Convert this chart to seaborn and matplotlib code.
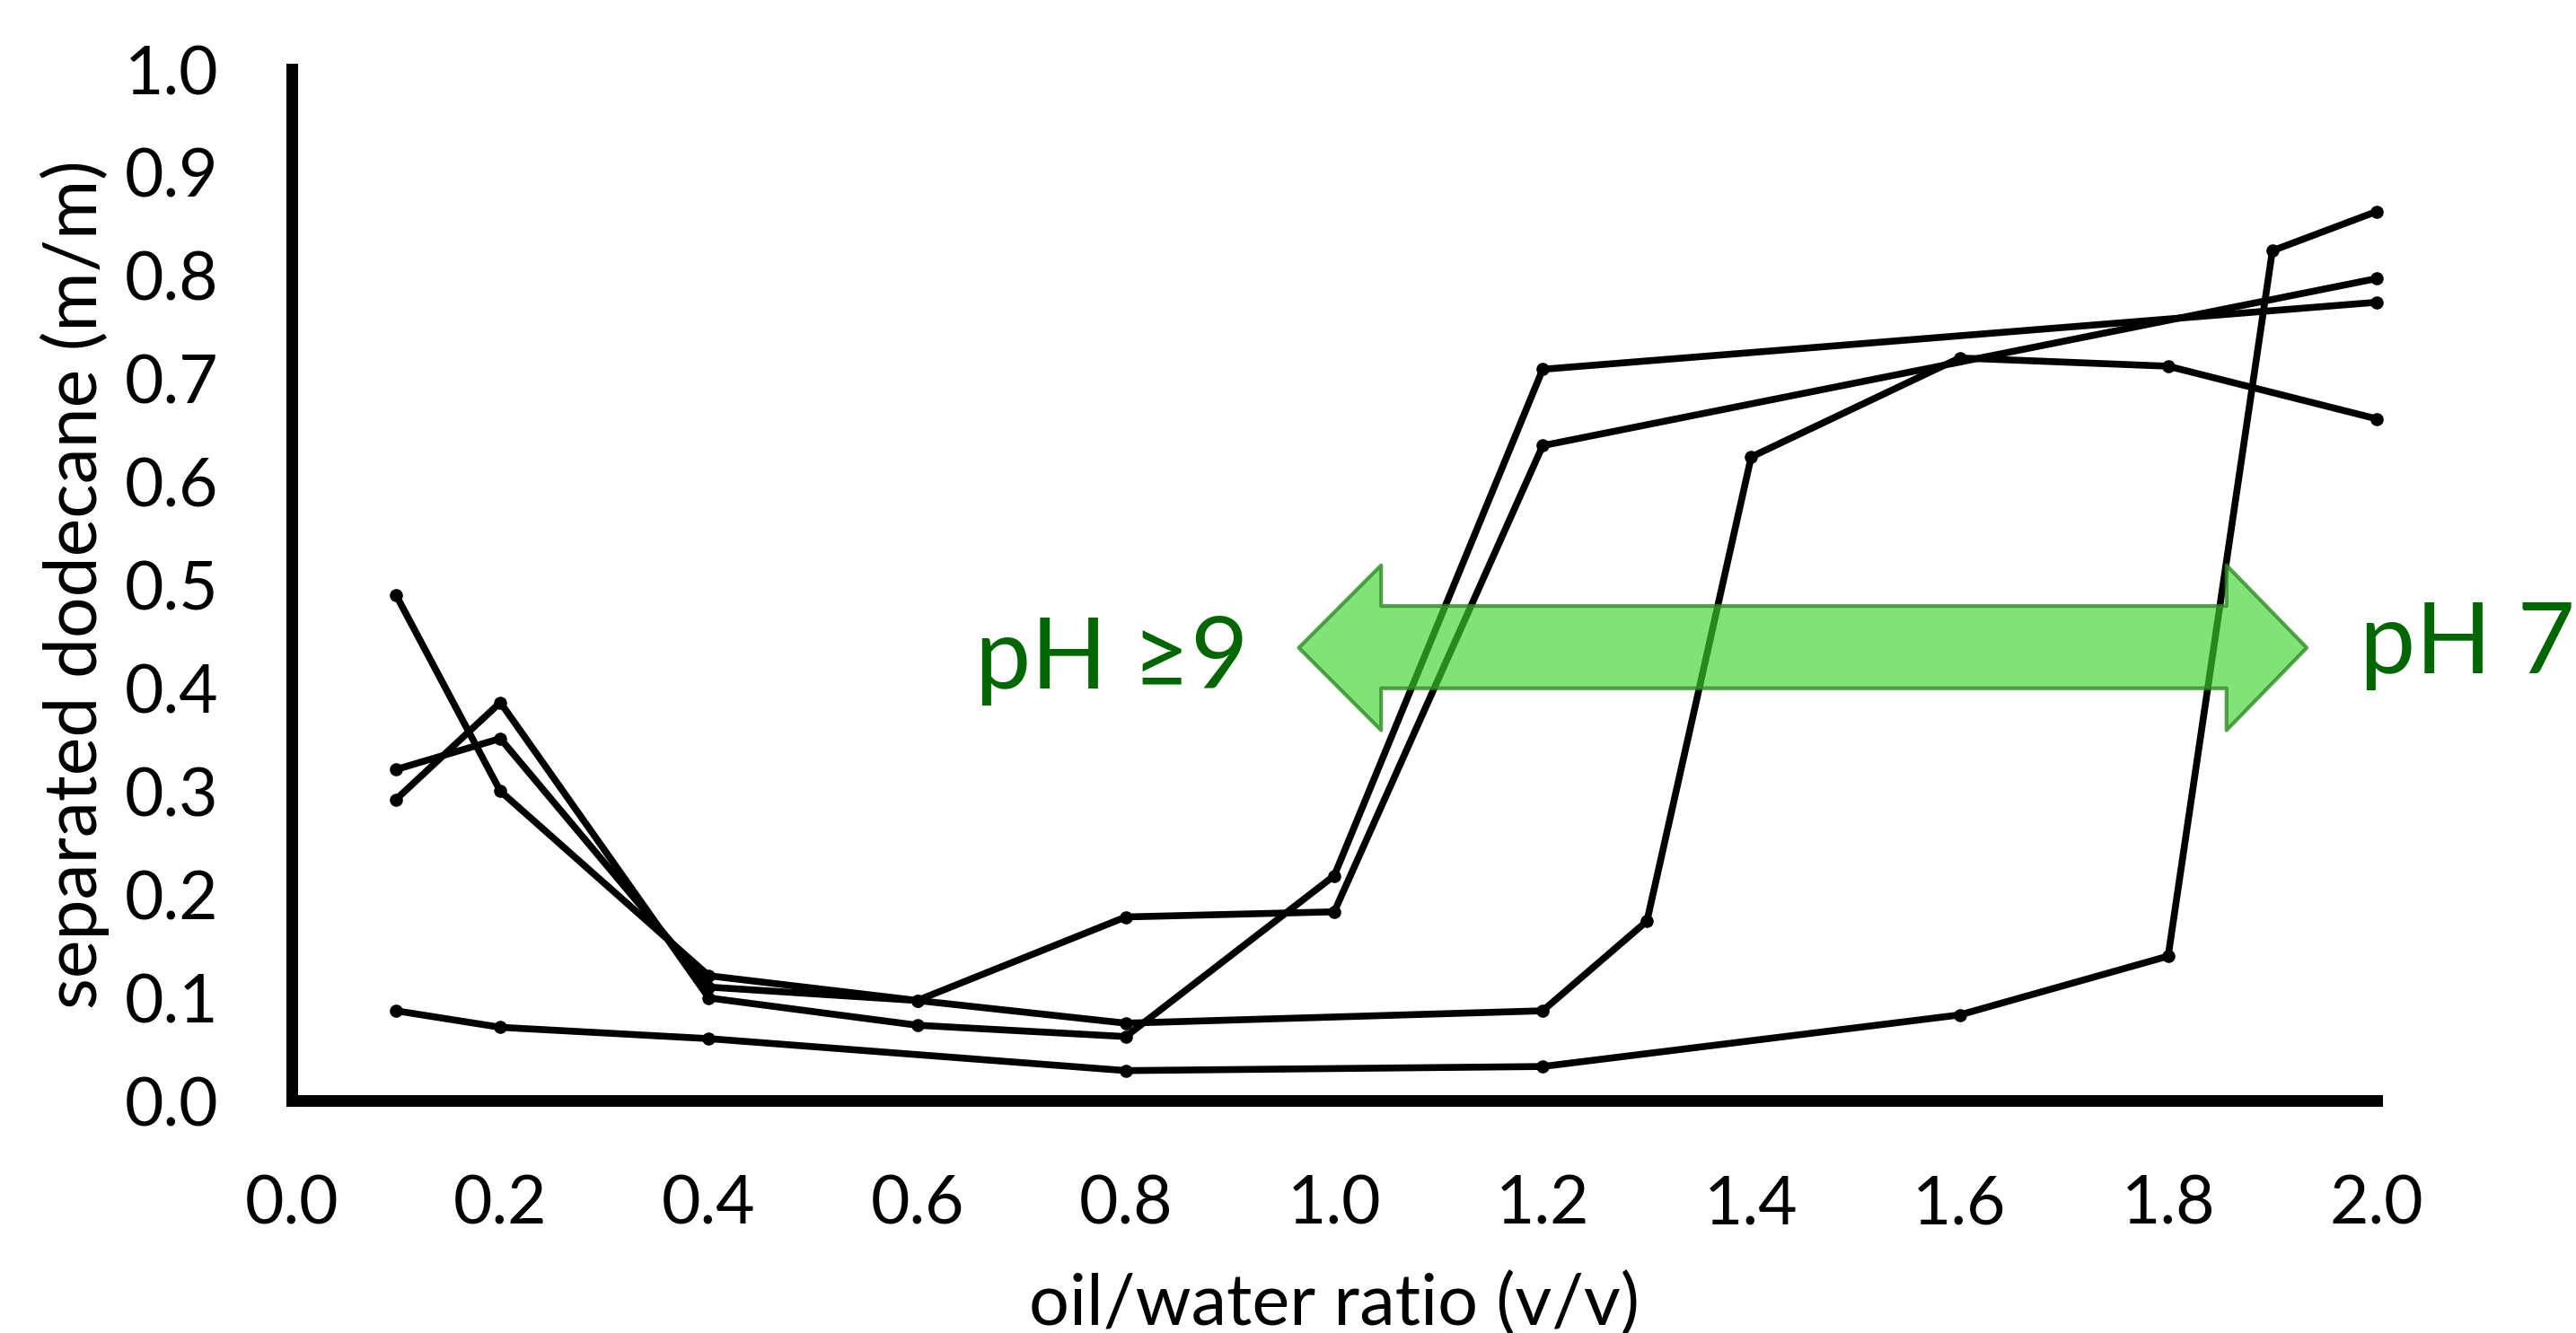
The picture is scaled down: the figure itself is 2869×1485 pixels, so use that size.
"""
Separated dodecane vs oil/water ratio, four runs, with the pH arrow.
"""

import matplotlib
matplotlib.use("Agg")
import matplotlib.pyplot as plt
from matplotlib.patches import Polygon
import seaborn as sns
import pandas as pd

# --- data --------------------------------------------------------------
ratio_a = [0.1, 0.2, 0.4, 0.6, 0.8, 1.2, 1.3, 1.4, 1.6, 1.8, 2.0]
sep_a = [0.49, 0.30, 0.121, 0.097, 0.075, 0.087, 0.174, 0.624, 0.720, 0.712, 0.661]

ratio_b = [0.1, 0.2, 0.4, 0.6, 0.8, 1.0, 1.2, 2.0]
sep_b = [0.321, 0.351, 0.110, 0.097, 0.178, 0.183, 0.635, 0.797]

ratio_c = [0.1, 0.2, 0.4, 0.6, 0.8, 1.0, 1.2, 2.0]
sep_c = [0.292, 0.386, 0.0995, 0.073, 0.062, 0.218, 0.709, 0.774]

ratio_d = [0.1, 0.2, 0.4, 0.8, 1.2, 1.6, 1.8, 1.9, 2.0]
sep_d = [0.087, 0.071, 0.060, 0.029, 0.033, 0.083, 0.140, 0.824, 0.862]

x_ticks = [0.0, 0.2, 0.4, 0.6, 0.8, 1.0, 1.2, 1.4, 1.6, 1.8, 2.0]
y_ticks = [0.0, 0.1, 0.2, 0.3, 0.4, 0.5, 0.6, 0.7, 0.8, 0.9, 1.0]

runs = {"a": (ratio_a, sep_a), "b": (ratio_b, sep_b),
        "c": (ratio_c, sep_c), "d": (ratio_d, sep_d)}
df = pd.concat(
    [pd.DataFrame({"ratio": r, "separated": s, "run": name})
     for name, (r, s) in runs.items()],
    ignore_index=True)

# --- style ---------------------------------------------------------------
sns.set_style("white")
FONT = ["Lato", "DejaVu Sans"]
plt.rcParams["font.family"] = FONT

fig = plt.figure(figsize=(28.69, 14.85), dpi=100)
ax = fig.add_axes([0.1133, 0.1744, 0.8093, 0.7737])

sns.lineplot(data=df, x="ratio", y="separated", units="run", estimator=None,
             color="black", linewidth=5.5, marker="o", markersize=10.5,
             markeredgewidth=0, ax=ax, clip_on=False, zorder=3)

ax.set_xlim(0, 2)
ax.set_ylim(0, 1)
ax.set_xticks(x_ticks)
ax.set_xticklabels([f"{v:.1f}" for v in x_ticks])
ax.set_yticks(y_ticks)
ax.set_yticklabels([f"{v:.1f}" for v in y_ticks])
ax.tick_params(length=0, labelsize=54, pad=59, colors="black")

for side in ["top", "right"]:
    ax.spines[side].set_visible(False)
for side in ["left", "bottom"]:
    ax.spines[side].set_linewidth(9.4)
    ax.spines[side].set_color("black")

ax.set_xlabel("oil/water ratio (v/v)", fontsize=57, color="black")
ax.set_ylabel("separated dodecane (m/m)", fontsize=58, color="black")
ax.xaxis.set_label_coords(0.5, -0.166)
ax.yaxis.set_label_coords(-0.0874, 0.5)

# double-headed block arrow between the two pH regimes
arrow_pts = [(0.966, 0.439), (1.045, 0.519), (1.045, 0.4795),
             (1.856, 0.4795), (1.856, 0.519), (1.933, 0.439),
             (1.856, 0.359), (1.856, 0.3997), (1.045, 0.3997),
             (1.045, 0.359)]
ax.add_patch(Polygon(arrow_pts, closed=True,
                     facecolor=(0.24, 0.83, 0.18, 0.65),
                     edgecolor=(0.18, 0.55, 0.14, 0.8),
                     linewidth=3, joinstyle="round", zorder=5,
                     clip_on=False))

ax.text(0.787, 0.3997, "pH \u22659", ha="center", va="baseline",
        color="#006600", fontsize=80, family=FONT, zorder=6)
ax.text(1.984, 0.414, "pH 7", ha="left", va="baseline",
        color="#006600", fontsize=80, family=FONT, zorder=6, clip_on=False)

fig.savefig("out.png", dpi=100)
